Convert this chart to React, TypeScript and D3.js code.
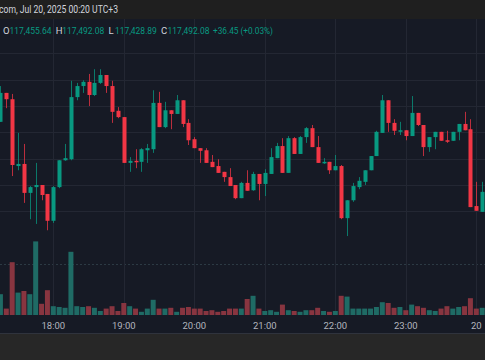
import React, { useEffect, useRef } from "react";
import * as d3 from "d3";

// 5-minute candles, first one at 17:15
const START = Date.UTC(2025, 6, 19, 17, 15);
const STEP_MIN = 5;

const OPEN = [
  117620, 117675, 117663, 117536, 117540, 117485, 117496, 117500, 117483, 117432,
  117496, 117547, 117549, 117667, 117688, 117696, 117671, 117694, 117709, 117688,
  117641, 117629, 117542, 117546, 117544, 117566, 117568, 117656, 117610, 117642,
  117635, 117661, 117618, 117587, 117570, 117566, 117544, 117536, 117525, 117515,
  117500, 117475, 117504, 117490, 117521, 117502, 117521, 117551, 117574, 117523,
  117589, 117559, 117591, 117608, 117572, 117542, 117544, 117528, 117536, 117437,
  117471, 117496, 117506, 117528, 117555, 117599, 117661, 117618, 117603, 117604,
  117593, 117637, 117614, 117572, 117591, 117601, 117585, 117584, 117601, 117616,
  117606, 117460, 117449,
];
const HIGH = [
  117688, 117675, 117673, 117599, 117578, 117498, 117542, 117500, 117483, 117498,
  117547, 117578, 117698, 117694, 117699, 117711, 117720, 117720, 117709, 117698,
  117648, 117629, 117553, 117568, 117570, 117578, 117680, 117677, 117658, 117642,
  117671, 117661, 117625, 117591, 117570, 117570, 117557, 117549, 117525, 117532,
  117500, 117506, 117528, 117525, 117521, 117530, 117570, 117580, 117589, 117593,
  117591, 117593, 117610, 117614, 117593, 117551, 117544, 117557, 117538, 117471,
  117504, 117515, 117528, 117555, 117603, 117671, 117661, 117625, 117620, 117604,
  117669, 117637, 117614, 117591, 117601, 117601, 117603, 117601, 117616, 117639,
  117625, 117506, 117506,
];
const LOW = [
  117620, 117646, 117517, 117528, 117466, 117435, 117426, 117471, 117414, 117428,
  117494, 117546, 117547, 117661, 117675, 117650, 117669, 117692, 117675, 117618,
  117627, 117542, 117525, 117532, 117525, 117542, 117561, 117610, 117608, 117606,
  117635, 117610, 117576, 117570, 117542, 117542, 117534, 117523, 117506, 117498,
  117473, 117475, 117489, 117489, 117471, 117479, 117521, 117551, 117523, 117523,
  117559, 117559, 117580, 117572, 117542, 117540, 117521, 117528, 117435, 117403,
  117468, 117492, 117500, 117528, 117555, 117599, 117601, 117595, 117595, 117585,
  117593, 117612, 117555, 117563, 117568, 117584, 117580, 117584, 117585, 117604,
  117458, 117451, 117449,
];
const CLOSE = [
  117675, 117663, 117538, 117540, 117485, 117496, 117500, 117481, 117432, 117496,
  117547, 117551, 117667, 117688, 117696, 117671, 117694, 117709, 117688, 117639,
  117629, 117542, 117546, 117544, 117568, 117570, 117656, 117610, 117642, 117635,
  117661, 117616, 117585, 117570, 117565, 117542, 117534, 117523, 117515, 117498,
  117475, 117504, 117489, 117521, 117502, 117523, 117553, 117574, 117523, 117589,
  117559, 117591, 117608, 117572, 117542, 117544, 117528, 117536, 117437, 117471,
  117498, 117508, 117528, 117555, 117601, 117661, 117618, 117603, 117604, 117593,
  117637, 117614, 117572, 117591, 117601, 117584, 117584, 117601, 117616, 117604,
  117458, 117451, 117487,
];
const VOLUME = [
  26, 8, 66, 28, 30, 26, 92, 14, 31, 11,
  10, 9, 79, 11, 10, 11, 9, 5, 8, 11,
  5, 15, 11, 8, 4, 8, 19, 8, 8, 9,
  4, 9, 10, 8, 8, 5, 6, 4, 5, 8,
  8, 8, 20, 24, 8, 5, 6, 4, 13, 6,
  5, 4, 6, 6, 9, 5, 4, 5, 24, 23,
  8, 8, 8, 8, 10, 16, 15, 9, 10, 6,
  13, 11, 9, 6, 5, 8, 11, 8, 10, 11,
  21, 8, 9,
];

const HEADER_TEXT = "com, Jul 20, 2025 00:20 UTC+3";
const LEGEND = [
  { k: "O", v: "117,455.64" },
  { k: "H", v: "117,492.08" },
  { k: "L", v: "117,428.89" },
  { k: "C", v: "117,492.08" },
];
const CHANGE = "+36.45 (+0.03%)";

const UP = "#089981";
const DOWN = "#f23645";
const UP_VOL = "#1f6b65";
const DOWN_VOL = "#883540";
const FONT = "Roboto, 'Noto Sans', sans-serif";

export default function App() {
  const svgRef = useRef<SVGSVGElement>(null);

  useEffect(() => {
    const width = 485;
    const height = 360;
    const svg = d3.select(svgRef.current);
    svg.selectAll("*").remove();

    const candles = OPEN.map((o, i) => ({
      t: new Date(START + i * STEP_MIN * 60000),
      o,
      h: HIGH[i],
      l: LOW[i],
      c: CLOSE[i],
      v: VOLUME[i],
    }));

    const x = d3
      .scaleUtc()
      .domain([new Date(Date.UTC(2025, 6, 19, 18)), new Date(Date.UTC(2025, 6, 20, 0))])
      .range([53.3, 476.3]);
    const y = d3.scaleLinear().domain([117218.8, 117815.4]).range([333, 19]);
    const yVol = d3.scaleLinear().domain([0, 100]).range([315, 235]);

    // backgrounds
    svg.append("rect").attr("width", width).attr("height", height).attr("fill", "#161a25");
    svg.append("rect").attr("width", width).attr("height", 19).attr("fill", "#1f1f1f");
    svg.append("rect").attr("y", 334).attr("width", width).attr("height", 26).attr("fill", "#272727");
    svg
      .append("line")
      .attr("x1", 0)
      .attr("x2", width)
      .attr("y1", 333.5)
      .attr("y2", 333.5)
      .attr("stroke", "#2f333d");

    // grid
    const grid = svg.append("g");
    const priceTicks = y.ticks(12).filter((p) => p >= 117450 && p <= 117750);
    grid
      .selectAll(".hg")
      .data(priceTicks)
      .enter()
      .append("line")
      .attr("x1", 0)
      .attr("x2", width)
      .attr("y1", (d) => Math.round(y(d)) + 0.5)
      .attr("y2", (d) => Math.round(y(d)) + 0.5)
      .attr("stroke", "#232733");
    grid
      .append("line")
      .attr("x1", 0)
      .attr("x2", width)
      .attr("y1", Math.round(y(117350)) + 0.5)
      .attr("y2", Math.round(y(117350)) + 0.5)
      .attr("stroke", "#2c3a44")
      .attr("stroke-dasharray", "2,2");

    const hours = x.ticks(d3.utcHour.every(1)!);
    grid
      .selectAll(".vg")
      .data(hours)
      .enter()
      .append("line")
      .attr("x1", (d) => Math.round(x(d)) + 0.5)
      .attr("x2", (d) => Math.round(x(d)) + 0.5)
      .attr("y1", 19)
      .attr("y2", 315)
      .attr("stroke", "#232733");

    // volume
    svg
      .append("g")
      .selectAll("rect")
      .data(candles)
      .enter()
      .append("rect")
      .attr("x", (d) => x(d.t) - 2.5)
      .attr("width", 5)
      .attr("y", (d) => yVol(d.v))
      .attr("height", (d) => yVol(0) - yVol(d.v))
      .attr("fill", (d) => (d.c >= d.o ? UP_VOL : DOWN_VOL));

    // candles
    const g = svg
      .append("g")
      .selectAll("g")
      .data(candles)
      .enter()
      .append("g");
    g.append("line")
      .attr("x1", (d) => Math.round(x(d.t)) + 0.5)
      .attr("x2", (d) => Math.round(x(d.t)) + 0.5)
      .attr("y1", (d) => y(d.h))
      .attr("y2", (d) => y(d.l))
      .attr("stroke", (d) => (d.c >= d.o ? UP : DOWN))
      .attr("stroke-opacity", 0.75);
    g.append("rect")
      .attr("x", (d) => Math.round(x(d.t)) - 1.5)
      .attr("width", 4)
      .attr("y", (d) => y(Math.max(d.o, d.c)))
      .attr("height", (d) => Math.max(1.5, Math.abs(y(d.o) - y(d.c))))
      .attr("fill", (d) => (d.c >= d.o ? UP : DOWN));

    // time axis labels
    svg
      .append("g")
      .selectAll("text")
      .data(hours)
      .enter()
      .append("text")
      .attr("x", (d) => x(d))
      .attr("y", 328.5)
      .attr("text-anchor", "middle")
      .attr("font-family", FONT)
      .attr("font-size", 9.5)
      .attr("fill", "#b2b5be")
      .text((d) => (d.getUTCHours() === 0 ? d3.utcFormat("%-d")(d) : d3.utcFormat("%H:%M")(d)));

    // header
    svg
      .append("text")
      .attr("x", -1)
      .attr("y", 13)
      .attr("font-family", FONT)
      .attr("font-size", 10)
      .attr("textLength", 119)
      .attr("lengthAdjust", "spacingAndGlyphs")
      .attr("fill", "#d1d4dc")
      .text(HEADER_TEXT);

    // OHLC legend, one block every ~52.7px
    const legend = svg
      .append("g")
      .attr("font-family", FONT)
      .attr("font-size", 9.5);
    LEGEND.forEach((it, i) => {
      const x0 = 3 + i * 52.7;
      legend
        .append("text")
        .attr("x", x0)
        .attr("y", 34)
        .attr("fill", "#d1d4dc")
        .text(it.k);
      legend
        .append("text")
        .attr("x", x0 + 6.5)
        .attr("y", 34)
        .attr("textLength", 42)
        .attr("lengthAdjust", "spacingAndGlyphs")
        .attr("fill", UP)
        .text(it.v);
    });
    legend
      .append("text")
      .attr("x", 213)
      .attr("y", 34)
      .attr("textLength", 60)
      .attr("lengthAdjust", "spacingAndGlyphs")
      .attr("fill", UP)
      .text(CHANGE);
  }, []);

  return (
    <svg
      ref={svgRef}
      width={485}
      height={360}
      style={{ position: "fixed", left: 0, top: 0, display: "block" }}
    />
  );
}
